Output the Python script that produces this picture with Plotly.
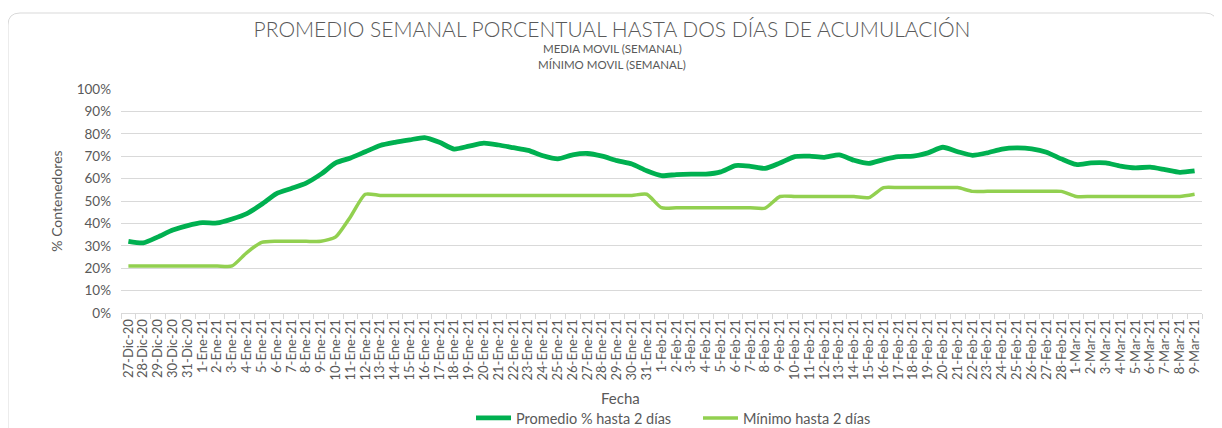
import plotly.graph_objects as go

fechas = ["27-Dic-20","28-Dic-20","29-Dic-20","30-Dic-20","31-Dic-20",
          "1-Ene-21","2-Ene-21","3-Ene-21","4-Ene-21","5-Ene-21","6-Ene-21","7-Ene-21","8-Ene-21","9-Ene-21",
          "10-Ene-21","11-Ene-21","12-Ene-21","13-Ene-21","14-Ene-21","15-Ene-21","16-Ene-21","17-Ene-21",
          "18-Ene-21","19-Ene-21","20-Ene-21","21-Ene-21","22-Ene-21","23-Ene-21","24-Ene-21","25-Ene-21",
          "26-Ene-21","27-Ene-21","28-Ene-21","29-Ene-21","30-Ene-21","31-Ene-21",
          "1-Feb-21","2-Feb-21","3-Feb-21","4-Feb-21","5-Feb-21","6-Feb-21","7-Feb-21","8-Feb-21","9-Feb-21",
          "10-Feb-21","11-Feb-21","12-Feb-21","13-Feb-21","14-Feb-21","15-Feb-21","16-Feb-21","17-Feb-21",
          "18-Feb-21","19-Feb-21","20-Feb-21","21-Feb-21","22-Feb-21","23-Feb-21","24-Feb-21","25-Feb-21",
          "26-Feb-21","27-Feb-21","28-Feb-21",
          "1-Mar-21","2-Mar-21","3-Mar-21","4-Mar-21","5-Mar-21","6-Mar-21","7-Mar-21","8-Mar-21","9-Mar-21"]

promedio = [32.0, 31.3, 34.0, 37.0, 39.0, 40.3, 40.2, 42.0, 44.4, 48.5, 53.3, 55.6, 58.0, 62.0,
            67.0, 69.2, 72.0, 74.8, 76.2, 77.3, 78.3, 76.2, 73.2, 74.5, 75.8, 75.0, 73.8, 72.6,
            70.2, 68.8, 70.6, 71.2, 70.0, 68.0, 66.5, 63.5, 61.3, 61.8, 62.0, 62.0, 63.0, 65.8,
            65.5, 64.6, 67.0, 69.8, 70.0, 69.5, 70.6, 68.2, 66.8, 68.5, 69.8, 70.0, 71.5, 74.0,
            72.0, 70.4, 71.5, 73.2, 73.7, 73.3, 71.8, 68.8, 66.3, 67.0, 67.0, 65.6, 64.8, 65.1,
            64.0, 62.8, 63.4]

minimo = [21.0, 21.0, 21.0, 21.0, 21.0, 21.0, 21.0, 21.0, 27.0, 31.5, 32.0, 32.0, 32.0, 32.0,
          34.0, 43.0, 53.0, 52.5, 52.5, 52.5, 52.5, 52.5, 52.5, 52.5, 52.5, 52.5, 52.5, 52.5,
          52.5, 52.5, 52.5, 52.5, 52.5, 52.5, 52.5, 53.0, 47.0, 47.0, 47.0, 47.0, 47.0, 47.0,
          47.0, 46.8, 52.0, 52.0, 52.0, 52.0, 52.0, 52.0, 51.5, 56.0, 56.0, 56.0, 56.0, 56.0,
          56.0, 54.3, 54.3, 54.3, 54.3, 54.3, 54.3, 54.3, 52.0, 52.0, 52.0, 52.0, 52.0, 52.0,
          52.0, 52.0, 53.0]

y_ticks = list(range(0, 101, 10))
y_ticktext = [f"{v}%" for v in y_ticks]

FONT = "Lato"
GREY = "#595959"

# The browser page has an 8px body margin: work in reference-pixel coordinates and shift.
OFF = 8
L, R, T, B = 121, 1202, 89, 313          # plot area in reference pixels
W, H = 1222 - OFF, 428 - OFF              # figure size

def px(x):
    return (x - L) / (R - L)

def py(y):
    return (B - y) / (B - T)

fig = go.Figure()
fig.add_trace(go.Scatter(x=fechas, y=promedio, mode="lines", name="Promedio % hasta 2 días",
                         line=dict(color="#00B050", width=4.8, shape="spline", smoothing=0.6)))
fig.add_trace(go.Scatter(x=fechas, y=minimo, mode="lines", name="Mínimo hasta 2 días",
                         line=dict(color="#92D050", width=3.5, shape="spline", smoothing=0.6)))

# outer rounded border
x0, x1, y0, y1, r = px(8), px(1217), py(13), py(445), 12
rx = r / (R - L)
ry = r / (B - T)
path = (f"M {x0+rx} {y0} L {x1-rx} {y0} Q {x1} {y0} {x1} {y0-ry} "
        f"L {x1} {y1+ry} Q {x1} {y1} {x1-rx} {y1} L {x0+rx} {y1} Q {x0} {y1} {x0} {y1+ry} "
        f"L {x0} {y0-ry} Q {x0} {y0} {x0+rx} {y0} Z")
fig.add_shape(type="path", path=path, xref="paper", yref="paper",
              line=dict(color="#D9D9D9", width=1), layer="below")

fig.update_layout(
    width=W, height=H,
    margin=dict(l=L - OFF, r=W - (R - OFF), t=T - OFF, b=H - (B - OFF), autoexpand=False),
    paper_bgcolor="white", plot_bgcolor="white",
    font=dict(family=FONT, color=GREY),
    title=dict(text="PROMEDIO SEMANAL PORCENTUAL HASTA DOS DÍAS DE ACUMULACIÓN",
               x=(612 - OFF) / W, xref="container", xanchor="center",
               y=1 - (30 - OFF) / H, yref="container", yanchor="middle",
               font=dict(family=FONT, size=21, color=GREY, weight=300)),
    showlegend=True,
    legend=dict(orientation="h", x=px(471), y=py(418), xanchor="left", yanchor="middle",
                font=dict(family=FONT, size=14.5, color=GREY), bgcolor="rgba(0,0,0,0)",
                itemwidth=35, tracegroupgap=0, entrywidth=177),
    xaxis=dict(type="category", range=[-0.5, len(fechas) - 0.5], tickangle=-90,
               tickmode="linear", tick0=0, dtick=1,
               tickfont=dict(family=FONT, size=13, color=GREY),
               showline=True, linecolor="#D9D9D9", linewidth=1,
               ticks="outside", tickson="boundaries", ticklen=5, tickcolor="#D9D9D9",
               showgrid=False, zeroline=False, fixedrange=True, automargin=False),
    yaxis=dict(range=[0, 100], tickmode="array", tickvals=y_ticks, ticktext=y_ticktext,
               tickfont=dict(family=FONT, size=13.5, color=GREY),
               showgrid=True, gridcolor="#D9D9D9", gridwidth=1.2,
               zeroline=False, showline=False, ticks="", ticklabelstandoff=9, automargin=False,
               title=dict(text="% Contenedores", font=dict(family=FONT, size=14, color=GREY),
                          standoff=10)),
    annotations=[
        dict(text="MEDIA MOVIL (SEMANAL)", x=px(612), y=py(48), xref="paper", yref="paper",
             xanchor="center", yanchor="middle",
             showarrow=False, font=dict(family=FONT, size=11.5, color=GREY)),
        dict(text="MÍNIMO MOVIL (SEMANAL)", x=px(612), y=py(64), xref="paper", yref="paper",
             xanchor="center", yanchor="middle",
             showarrow=False, font=dict(family=FONT, size=11.5, color=GREY)),
        dict(text="Fecha", x=px(620), y=py(398), xref="paper", yref="paper",
             xanchor="center", yanchor="middle",
             showarrow=False, font=dict(family=FONT, size=15, color=GREY)),
    ],
)

fig.write_html("out.html")
